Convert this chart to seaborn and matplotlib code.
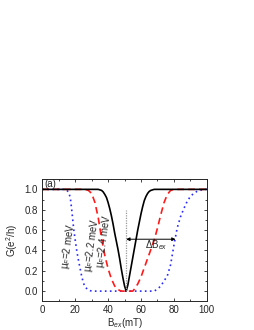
"""
Conductance dip vs exchange field for three Fermi energies
"""

import matplotlib
matplotlib.use("Agg")
import matplotlib.pyplot as plt
import seaborn as sns

# values
b_24 = [0, 10, 20, 30, 34, 36, 37, 38, 39, 40, 41, 42, 43, 44, 45, 46, 47, 48, 49, 50, 51,
        52, 53, 54, 55, 56, 57, 58, 59, 60, 61, 62, 63, 64, 65, 66, 68, 72, 80, 90, 100]
g_24 = [1.0, 1.0, 1.0, 1.0, 1.0, 0.99, 0.975, 0.95, 0.92, 0.87, 0.81, 0.74, 0.66, 0.57, 0.49,
        0.41, 0.32, 0.22, 0.13, 0.05, 0.0,
        0.06, 0.15, 0.24, 0.33, 0.42, 0.51, 0.6, 0.68, 0.76, 0.83, 0.89, 0.93, 0.96, 0.98,
        0.99, 1.0, 1.0, 1.0, 1.0, 1.0]

b_22 = [0, 10, 20, 26, 28, 30, 32, 34, 36, 38, 40, 42, 44, 46, 48, 50, 52, 54, 55, 56, 58,
        60, 62, 64, 66, 68, 70, 72, 74, 76, 78, 80, 90, 100]
g_22 = [1.0, 1.0, 1.0, 1.0, 0.99, 0.96, 0.87, 0.72, 0.52, 0.35, 0.22, 0.12, 0.05, 0.015,
        0.0, 0.0, 0.0, 0.0, 0.0, 0.02, 0.07, 0.14, 0.23, 0.32, 0.41, 0.5, 0.62, 0.75, 0.87,
        0.95, 0.99, 1.0, 1.0, 1.0]

b_20 = [0, 10, 14, 15, 16, 17, 18, 19, 20, 21, 22, 23, 24, 25, 26, 28, 30, 40, 50, 60, 68,
        70, 72, 74, 76, 78, 80, 82, 84, 86, 88, 90, 92, 94, 96, 98, 100]
g_20 = [1.0, 1.0, 1.0, 0.99, 0.97, 0.92, 0.78, 0.62, 0.5, 0.39, 0.3, 0.22, 0.14, 0.08, 0.04,
        0.01, 0.0, 0.0, 0.0, 0.0, 0.0,
        0.02, 0.05, 0.1, 0.15, 0.26, 0.45, 0.62, 0.73, 0.81, 0.88, 0.93, 0.96, 0.98, 0.99,
        1.0, 1.0]

labels = ["\u03bc$_F$=2 meV", "\u03bc$_F$=2.2 meV", "\u03bc$_F$=2.4 meV"]
label_x = [16, 30, 37.5]
label_y = [0.44, 0.45, 0.49]

b_center = 51
b_edge = 81

sns.set_style("ticks")
plt.rcParams["font.family"] = ["Liberation Sans", "DejaVu Sans"]
plt.rcParams["mathtext.fontset"] = "custom"
plt.rcParams["mathtext.rm"] = "Liberation Sans"
plt.rcParams["mathtext.it"] = "Liberation Sans:italic"

fs = 7

fig = plt.figure(figsize=(2.55, 3.3), dpi=100)
ax = fig.add_axes([0.166, 0.087, 0.645, 0.37])

sns.lineplot(x=b_20, y=g_20, ax=ax, color="#2a2aff", lw=1.2, linestyle=(0, (1, 2)))
sns.lineplot(x=b_22, y=g_22, ax=ax, color="#ff1a1a", lw=1.2, linestyle=(0, (4, 2.5)))
sns.lineplot(x=b_24, y=g_24, ax=ax, color="black", lw=1.2)

ax.plot([b_center, b_center], [0, 0.8], color="#999999", lw=0.9, linestyle=(0, (1, 1)))
ax.annotate("", xy=(b_edge, 0.51), xytext=(b_center, 0.51),
            arrowprops=dict(arrowstyle="<|-|>", color="black", lw=0.7,
                            mutation_scale=5, shrinkA=0, shrinkB=0))
ax.text(62.5, 0.45, "\u0394B$_{ex}$", fontsize=fs, ha="left", va="center")

for t, x, y in zip(labels, label_x, label_y):
    ax.text(x, y, t, fontsize=fs, rotation=82, ha="center", va="center")

ax.text(1.5, 1.055, "(a)", fontsize=fs, ha="left", va="center")

ax.set_xlim(0, 100)
ax.set_ylim(-0.1, 1.1)
ax.set_xticks(range(0, 101, 20))
ax.set_xticks(range(10, 100, 20), minor=True)
ax.set_yticks([0, 0.2, 0.4, 0.6, 0.8, 1.0])
ax.set_yticks([0.1, 0.3, 0.5, 0.7, 0.9], minor=True)
ax.set_yticklabels(["0.0", "0.2", "0.4", "0.6", "0.8", "1.0"])
ax.tick_params(which="both", direction="in", top=True, right=True, labelsize=fs,
               width=0.6, pad=3)
ax.tick_params(which="major", length=2.5)
ax.tick_params(which="minor", length=1.5)
for s in ax.spines.values():
    s.set_linewidth(0.7)

ax.set_xlabel("B$_{ex}$(mT)", fontsize=fs, labelpad=0.5)
ax.set_ylabel("G(e$^2$/h)", fontsize=fs, labelpad=3)

fig.savefig("out.png", dpi=100)
